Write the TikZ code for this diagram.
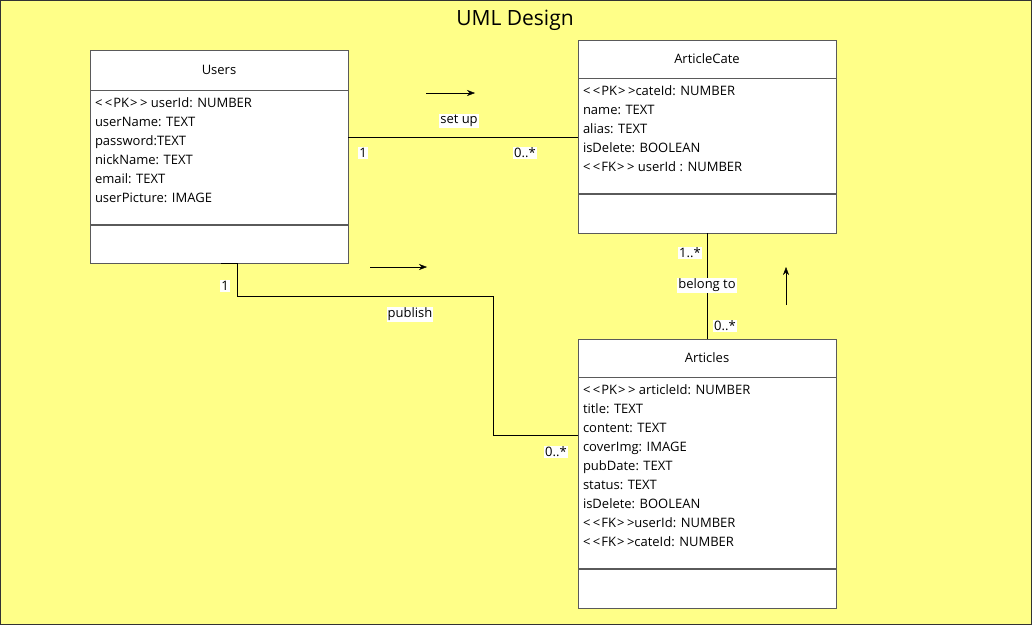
\documentclass[tikz,border=0pt]{standalone}
\usepackage{fontspec}
\setmainfont{Open Sans}
\usetikzlibrary{arrows.meta}
\definecolor{bgyellow}{HTML}{FFFF88}
\definecolor{boxgray}{HTML}{5A5A5A}
\newcommand{\stereo}[1]{<\kern2.5pt<\kern1pt#1\kern1pt>\kern2.5pt>}
\tikzset{
  cls/.style={draw=boxgray, fill=white, minimum width=258pt, inner sep=0pt,
    font=\fontsize{13}{15}\selectfont},
  attr/.style={anchor=north west, align=left, inner sep=0pt,
    font=\fontsize{13}{19}\selectfont},
  lbl/.style={fill=white, inner sep=1pt, font=\fontsize{13}{15}\selectfont},
  dir/.style={-{Stealth[length=8pt, width=6pt]}},
}
\begin{document}
\begin{tikzpicture}[x=1pt, y=-1pt]
      \useasboundingbox (0,0) rectangle (1032,625);
      \draw[draw=black!80, fill=bgyellow] (0.5,0.5) rectangle (1031.5,624.5);
      \node[font=\fontsize{21}{25}\selectfont] (title) at (515,20) {UML Design};

      % Users
      \node[cls, minimum height=40pt] (users) at (219,70) {Users};
      \node[cls, minimum height=134pt, anchor=north] (users-attr) at (users.south) {};
      \node[cls, minimum height=38pt, anchor=north] (users-ops) at (users-attr.south) {};
      \node[attr] (users-txt) at ([xshift=5pt, yshift=-7pt]users-attr.north west)
        {\stereo{PK} userId: NUMBER\\ userName: TEXT\\ password:TEXT\\
         nickName: TEXT\\ email: TEXT\\ userPicture: IMAGE};

      % ArticleCate
      \node[cls, minimum height=38pt] (cate) at (707,59) {ArticleCate};
      \node[cls, minimum height=115pt, anchor=north] (cate-attr) at (cate.south) {};
      \node[cls, minimum height=39pt, anchor=north] (cate-ops) at (cate-attr.south) {};
      \node[attr] (cate-txt) at ([xshift=5pt, yshift=-7pt]cate-attr.north west)
        {\stereo{PK}cateId: NUMBER\\ name: TEXT\\ alias: TEXT\\
         isDelete: BOOLEAN\\ \stereo{FK} userId : NUMBER};

      % Articles
      \node[cls, minimum height=38pt] (art) at (707,358) {Articles};
      \node[cls, minimum height=191pt, anchor=north] (art-attr) at (art.south) {};
      \node[cls, minimum height=39pt, anchor=north] (art-ops) at (art-attr.south) {};
      \node[attr] (art-txt) at ([xshift=5pt, yshift=-7pt]art-attr.north west)
        {\stereo{PK} articleId: NUMBER\\ title: TEXT\\ content: TEXT\\
         coverImg: IMAGE\\ pubDate: TEXT\\ status: TEXT\\ isDelete: BOOLEAN\\
         \stereo{FK}userId: NUMBER\\ \stereo{FK}cateId: NUMBER};

      % associations
      \coordinate (pub-bend) at (493,296);
      \draw
        ([yshift=-1.5pt]cate-attr.west -| users-attr.east) -- ([yshift=-1.5pt]cate-attr.west)
        (cate-ops.south) -- (art.north)
        ([xshift=2pt]users-ops.south) -- ([xshift=18pt]users-ops.south)
          |- (pub-bend) |- ([yshift=37.5pt]art-attr.west)
      ;

      \node[lbl] (setup-lbl) at (459,121) {set up};
      \node[lbl] (setup-one) at (363,153) {1};
      \node[lbl] (setup-many) at (525,153) {0..*};
      \node[lbl] (pub-lbl) at (410,314) {publish};
      \node[lbl] (pub-one) at (225,286) {1};
      \node[lbl] (pub-many) at (556,452) {0..*};
      \node[lbl] (bel-lbl) at (707,285) {belong to};
      \node[lbl] (bel-one) at (690,253) {1..*};
      \node[lbl] (bel-many) at (725,326) {0..*};

      % reading direction
      \draw[dir] (426,93) -- (475,93);
      \draw[dir] (370,267) -- (427,267);
      \draw[dir] (786,305) -- (786,267);
    \end{tikzpicture}
\end{document}
